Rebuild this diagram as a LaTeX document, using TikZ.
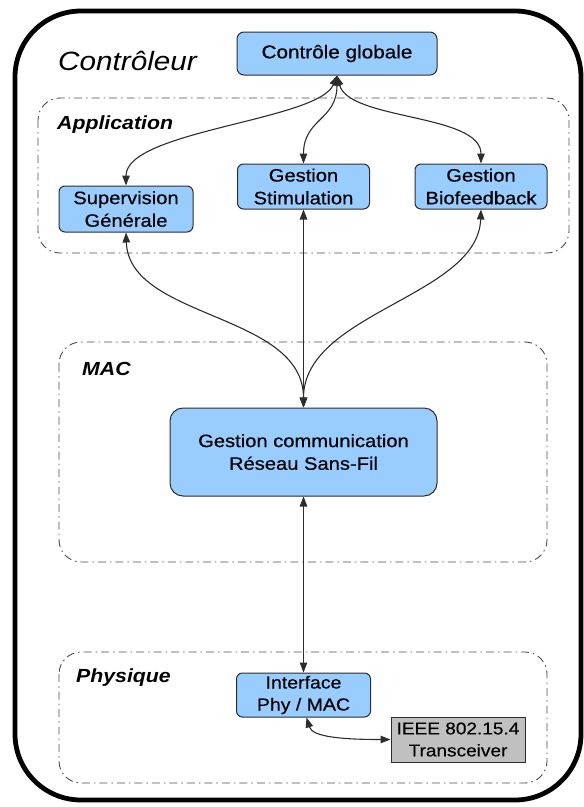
\documentclass[tikz,border=0pt]{standalone}
\usepackage{fontspec}
\setmainfont{Liberation Sans}[FakeStretch=1.12]
\newfontfamily\blockfont{Liberation Sans}[FakeStretch=1.12, FakeBold=0.4]
\usetikzlibrary{arrows.meta}

\definecolor{boxblue}{RGB}{153,204,255}
\definecolor{boxgray}{RGB}{192,192,192}
\definecolor{edgegray}{RGB}{45,45,45}

\begin{document}
\begin{tikzpicture}[x=1pt,y=-1pt,
  layer/.style={draw=black!70, line width=0.9pt,
    dash pattern=on 8pt off 4pt on 1.5pt off 4pt, rounded corners=22pt},
  block/.style={draw=edgegray, line width=1pt, fill=boxblue,
    rounded corners=6pt, inner sep=0pt, align=center,
    font=\blockfont\fontsize{18}{22.7}\selectfont},
  hwblock/.style={draw=edgegray, line width=1pt, fill=boxgray,
    inner sep=0pt, align=center, font=\blockfont\fontsize{17}{22}\selectfont},
  layerlabel/.style={anchor=base west, inner sep=0pt,
    font=\fontsize{19}{22}\selectfont\bfseries\itshape},
  biarrow/.style={draw=edgegray, line width=1.1pt,
    {Triangle[length=10pt,width=7.5pt]}-{Triangle[length=10pt,width=7.5pt]}}
]
\useasboundingbox (0,0) rectangle (584,807);

% controller outline
\draw[line width=4.8pt, rounded corners=66pt] (15,11) rectangle (581,800);
\node[anchor=base west, inner sep=0pt,
  font=\fontsize{26.5}{30}\selectfont\itshape] (ctltitle) at (58,70) {Contrôleur};

% layers
\draw[layer] (38,98) rectangle (569,253);
\draw[layer] (59,342) rectangle (547,562);
\draw[layer] (59,652) rectangle (547,783);
\node[layerlabel] (lapp) at (57,129) {Application};
\node[layerlabel] (lmac) at (82,375) {MAC};
\node[layerlabel] (lphy) at (76,682) {Physique};

% blocks
\node[block, minimum width=200pt, minimum height=43pt, rounded corners=7pt,
  font=\blockfont\fontsize{18.5}{22}\selectfont] (ctl) at (337,53.5) {Contrôle globale};
\node[block, minimum width=134pt, minimum height=46pt] (sup) at (126,209) {Supervision\\Générale};
\node[block, minimum width=132pt, minimum height=45pt] (stim) at (303.5,186.5) {Gestion\\Stimulation};
\node[block, minimum width=132pt, minimum height=45pt] (bio) at (481,186.5) {Gestion\\Biofeedback};
\node[block, minimum width=267pt, minimum height=88pt, rounded corners=13pt] (comm) at (303.5,452) {Gestion communication\\Réseau Sans-Fil};
\node[block, minimum width=134pt, minimum height=44pt,
  font=\blockfont\fontsize{17.4}{22}\selectfont] (intf) at (303.5,695) {Interface\\Phy / MAC};
\node[hwblock, minimum width=134pt, minimum height=45pt] (ieee) at (458,739.5) {IEEE 802.15.4\\Transceiver};

% links
\draw[biarrow] (ctl.south) .. controls +(-18,45) and +(0,-55) .. (sup.north);
\draw[biarrow] (ctl.south) .. controls +(0,45) and +(0,-45) .. (stim.north);
\draw[biarrow] (ctl.south) .. controls +(12,45) and +(0,-50) .. (bio.north);
\draw[biarrow] (sup.south) .. controls +(3,87) and +(0,-95) .. (comm.north);
\draw[biarrow] (stim.south) -- (comm.north);
\draw[biarrow] (bio.south) .. controls +(-3,87) and +(0,-95) .. (comm.north);
\draw[biarrow] (comm.south) -- (intf.north);
\draw[biarrow] ([xshift=3pt]intf.south) .. controls +(6,20) and +(-45,0) .. (ieee.west);
\end{tikzpicture}
\end{document}
